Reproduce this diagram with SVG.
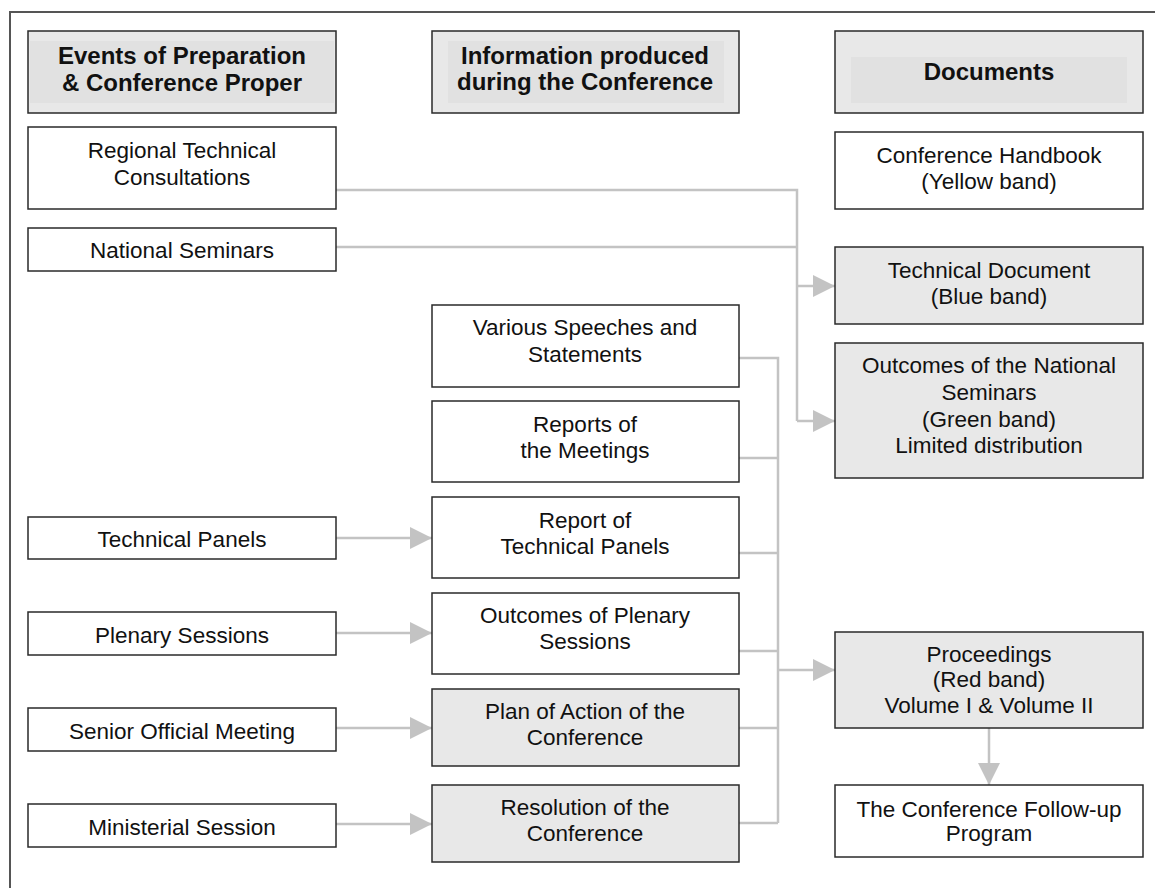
<svg xmlns="http://www.w3.org/2000/svg" width="1155" height="888" viewBox="0 0 1155 888">
<defs>
<style>
.box{fill:#ffffff;stroke:#2a2a2a;stroke-width:1.5}
.gray{fill:#e8e8e8;stroke:#2a2a2a;stroke-width:1.5}
.band{fill:#e1e1e1;stroke:none}
.t{font-family:"Liberation Sans",Arial,sans-serif;font-size:22.5px;fill:#111;text-anchor:middle}
.h{font-family:"Liberation Sans",Arial,sans-serif;font-size:24px;font-weight:bold;fill:#111;text-anchor:middle}
.c{fill:none;stroke:#c3c3c3;stroke-width:2.5}
.a{fill:none;stroke:#c3c3c3;stroke-width:2.5;marker-end:url(#arr)}
</style>
<marker id="arr" markerUnits="userSpaceOnUse" markerWidth="22" markerHeight="22" refX="22" refY="11" orient="auto" viewBox="0 0 22 22">
<path d="M0,0 L22,11 L0,22 Z" fill="#c3c3c3"/>
</marker>
</defs>
<rect width="1155" height="888" fill="#ffffff"/>
<path d="M10,888 V12 H1155" fill="none" stroke="#555555" stroke-width="2"/>

<g id="connectors">
<path class="c" d="M336,190 H797 V421"/>
<path class="c" d="M336,247 H797"/>
<path class="a" d="M797,286 H835"/>
<path class="a" d="M797,421 H835"/>
<path class="c" d="M739,358 H778 V823"/>
<path class="c" d="M739,458 H778"/>
<path class="c" d="M739,553 H778"/>
<path class="c" d="M739,651 H778"/>
<path class="c" d="M739,728 H778"/>
<path class="c" d="M739,823 H778"/>
<path class="a" d="M778,670 H835"/>
<path class="a" d="M336,538 H432"/>
<path class="a" d="M336,633 H432"/>
<path class="a" d="M336,728 H432"/>
<path class="a" d="M336,824 H432"/>
<path class="a" d="M989,728 V785"/>
</g>

<g id="hdr-events">
<rect class="gray" x="28" y="31" width="308" height="82"/>
<rect class="band" x="30" y="41" width="304" height="62"/>
<text class="h" x="182" y="64">Events of Preparation</text>
<text class="h" x="182" y="91">&amp; Conference Proper</text>
</g>
<g id="hdr-info">
<rect class="gray" x="432" y="31" width="307" height="82"/>
<rect class="band" x="448" y="41" width="276" height="62"/>
<text class="h" x="585" y="64">Information produced</text>
<text class="h" x="585" y="90">during the Conference</text>
</g>
<g id="hdr-docs">
<rect class="gray" x="835" y="31" width="308" height="82"/>
<rect class="band" x="851" y="57" width="276" height="46"/>
<text class="h" x="989" y="80">Documents</text>
</g>

<g id="n-regional">
<rect class="box" x="28" y="127" width="308" height="82"/>
<text class="t" x="182" y="158">Regional Technical</text>
<text class="t" x="182" y="185">Consultations</text>
</g>
<g id="n-national">
<rect class="box" x="28" y="228" width="308" height="43"/>
<text class="t" x="182" y="258">National Seminars</text>
</g>
<g id="n-handbook">
<rect class="box" x="835" y="132" width="308" height="77"/>
<text class="t" x="989" y="163">Conference Handbook</text>
<text class="t" x="989" y="189">(Yellow band)</text>
</g>
<g id="n-techdoc">
<rect class="gray" x="835" y="247" width="308" height="77"/>
<text class="t" x="989" y="278">Technical Document</text>
<text class="t" x="989" y="304">(Blue band)</text>
</g>
<g id="n-outnat">
<rect class="gray" x="835" y="343" width="308" height="135"/>
<text class="t" x="989" y="373">Outcomes of the National</text>
<text class="t" x="989" y="400">Seminars</text>
<text class="t" x="989" y="427">(Green band)</text>
<text class="t" x="989" y="453">Limited distribution</text>
</g>

<g id="n-speeches">
<rect class="box" x="432" y="305" width="307" height="82"/>
<text class="t" x="585" y="335">Various Speeches and</text>
<text class="t" x="585" y="362">Statements</text>
</g>
<g id="n-reports">
<rect class="box" x="432" y="401" width="307" height="81"/>
<text class="t" x="585" y="432">Reports of</text>
<text class="t" x="585" y="458">the Meetings</text>
</g>
<g id="n-reporttp">
<rect class="box" x="432" y="497" width="307" height="81"/>
<text class="t" x="585" y="528">Report of</text>
<text class="t" x="585" y="554">Technical Panels</text>
</g>
<g id="n-outplen">
<rect class="box" x="432" y="593" width="307" height="81"/>
<text class="t" x="585" y="623">Outcomes of Plenary</text>
<text class="t" x="585" y="649">Sessions</text>
</g>
<g id="n-plan">
<rect class="gray" x="432" y="689" width="307" height="77"/>
<text class="t" x="585" y="719">Plan of Action of the</text>
<text class="t" x="585" y="745">Conference</text>
</g>
<g id="n-resolution">
<rect class="gray" x="432" y="785" width="307" height="77"/>
<text class="t" x="585" y="815">Resolution of the</text>
<text class="t" x="585" y="841">Conference</text>
</g>

<g id="n-techpanels">
<rect class="box" x="28" y="517" width="308" height="42"/>
<text class="t" x="182" y="547">Technical Panels</text>
</g>
<g id="n-plenary">
<rect class="box" x="28" y="612" width="308" height="43"/>
<text class="t" x="182" y="643">Plenary Sessions</text>
</g>
<g id="n-senior">
<rect class="box" x="28" y="708" width="308" height="43"/>
<text class="t" x="182" y="739">Senior Official Meeting</text>
</g>
<g id="n-ministerial">
<rect class="box" x="28" y="804" width="308" height="43"/>
<text class="t" x="182" y="835">Ministerial Session</text>
</g>

<g id="n-proceedings">
<rect class="gray" x="835" y="632" width="308" height="96"/>
<text class="t" x="989" y="662">Proceedings</text>
<text class="t" x="989" y="687">(Red band)</text>
<text class="t" x="989" y="713">Volume I &amp; Volume II</text>
</g>
<g id="n-followup">
<rect class="box" x="835" y="785" width="308" height="72"/>
<text class="t" x="989" y="817">The Conference Follow-up</text>
<text class="t" x="989" y="841">Program</text>
</g>
</svg>
